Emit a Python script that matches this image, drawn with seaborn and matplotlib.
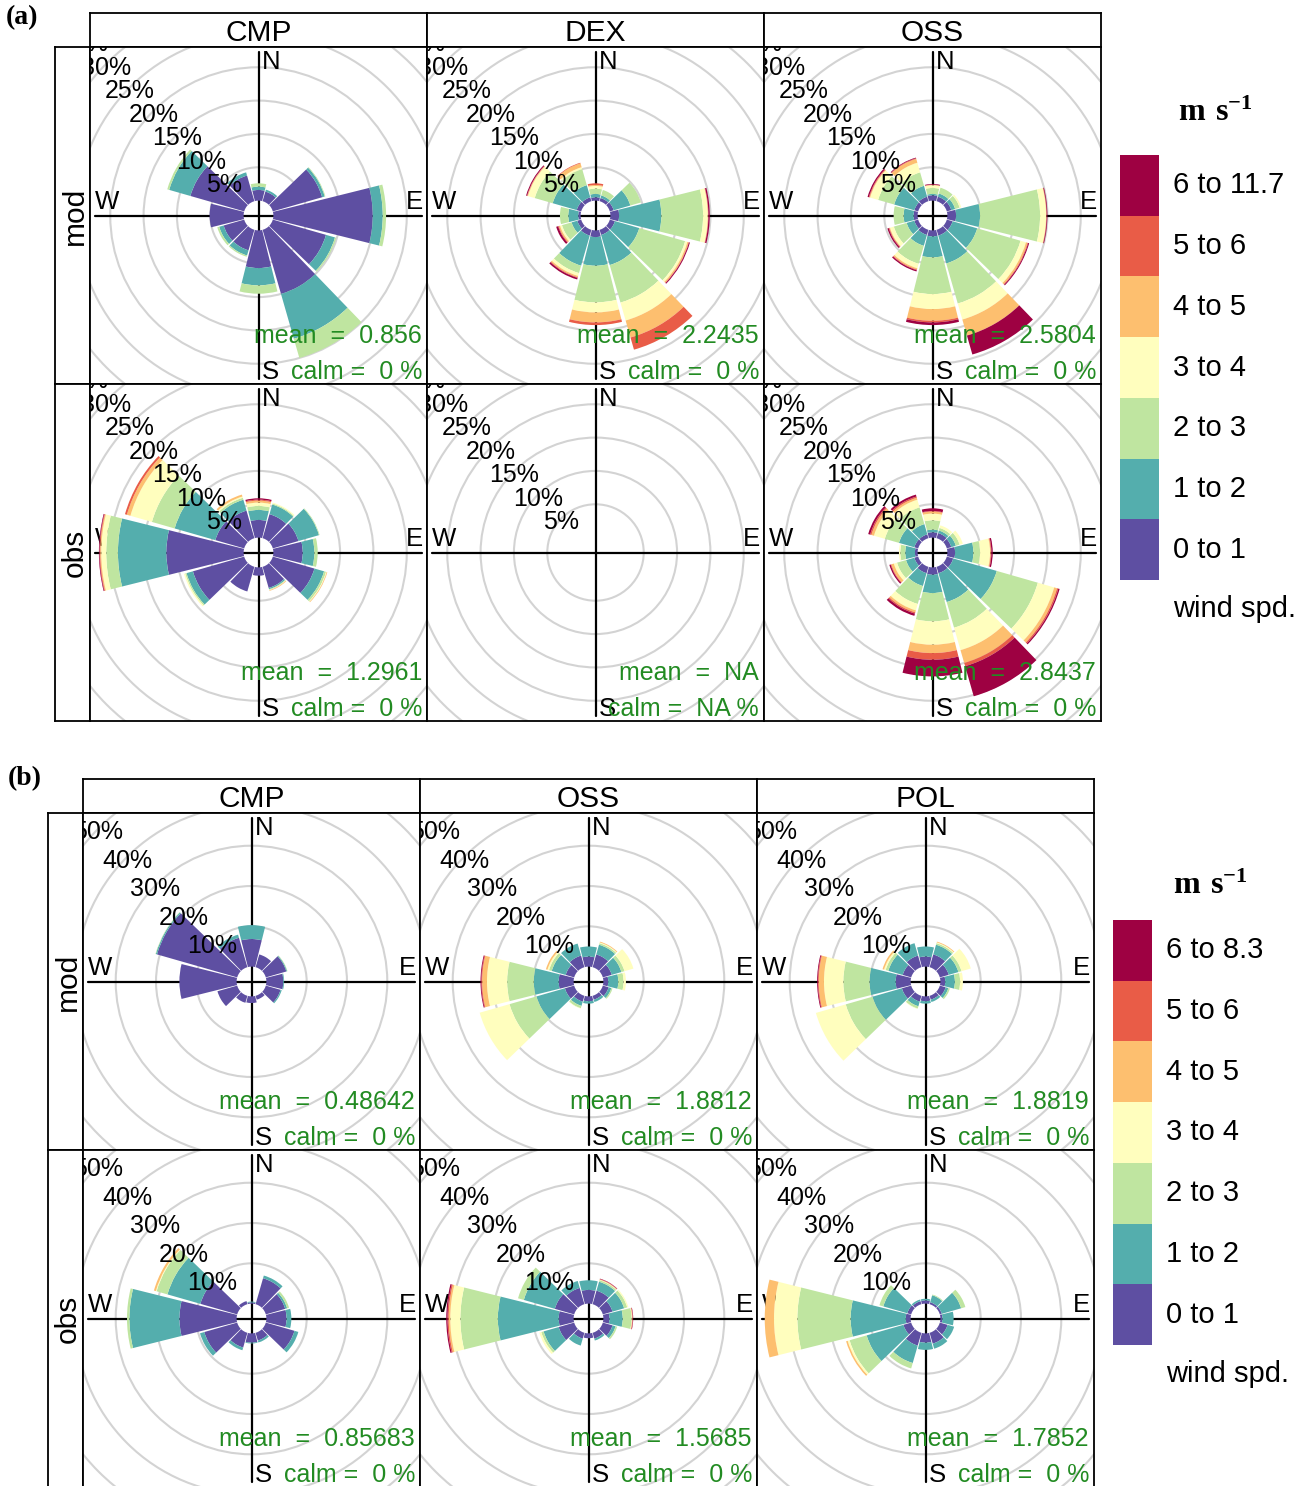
import numpy as np
import matplotlib
matplotlib.use("Agg")
import matplotlib.pyplot as plt
from matplotlib.patches import Wedge, Circle
import matplotlib.transforms as mtransforms
import seaborn as sns

FIG_W, FIG_H = 1306, 1486

# ============ Data ============
# wind direction of each petal (degrees from north, clockwise)
directions = [0, 30, 60, 90, 120, 150, 180, 210, 240, 270, 300, 330]

# brewer Spectral, red -> purple
spectral11 = ["#9E0142", "#D53E4F", "#F46D43", "#FDAE61", "#FEE08B", "#FFFFBF",
              "#E6F598", "#ABDDA4", "#66C2A5", "#3288BD", "#5E4FA2"]

a_speed_labels = ["0 to 1", "1 to 2", "2 to 3", "3 to 4", "4 to 5", "5 to 6", "6 to 11.7"]
b_speed_labels = ["0 to 1", "1 to 2", "2 to 3", "3 to 4", "4 to 5", "5 to 6", "6 to 8.3"]

# cumulative frequency (%) per speed bin, one row per direction N, 30, ..., 330
a_mod_cmp = [[1.6, 2.1, 2.6], [1.5, 1.8], [7.7, 8.1, 8.2], [14.9, 16.4, 16.9],
             [8.3, 9.7, 9.9], [10.0, 17.0, 20.0], [5.65, 8.25, 9.5], [3.2, 4.0, 4.2],
             [3.2, 3.9, 4.2], [5.1], [8.4, 11.7, 12.0], [4.0, 4.5]]
a_mod_dex = [[0.5, 1.0, 1.8, 2.2, 2.35, 2.6], [0.5, 0.9, 1.75], [0.6, 3.2, 4.85],
             [1.3, 7.65, 13.9, 14.6, 14.65, 14.7, 14.9],
             [0.8, 4.6, 11.75, 12.1, 12.3, 12.35, 12.5],
             [0.8, 5.5, 11.35, 14.15, 16.8, 18.7],
             [1.0, 5.3, 10.8, 12.3, 13.8, 14.2],
             [0.9, 5.6, 6.75, 7.2, 7.4, 7.5, 7.75],
             [0.6, 1.5, 3.0, 3.3, 3.5, 3.6, 3.9], [0.35, 1.85, 3.1],
             [0.7, 4.45, 7.25, 8.3, 8.4, 8.45, 8.6],
             [0.6, 2.5, 5.0, 5.3, 5.9, 6.0]]
a_mod_oss = [[0.8, 1.0, 1.9, 2.3, 2.35, 2.4, 2.5], [0.7, 1.2, 2.1], [0.7, 1.3, 2.0, 2.25],
             [1.3, 4.9, 13.9, 14.8, 14.85, 14.9, 15.0],
             [0.9, 4.75, 11.5, 12.35, 12.6, 12.7, 12.85],
             [0.9, 5.25, 11.5, 14.0, 16.5, 16.5, 19.45],
             [0.9, 4.05, 9.55, 11.8, 13.55, 13.8, 14.2],
             [0.8, 2.5, 5.3, 6.0, 6.2, 6.3, 6.5],
             [0.6, 1.8, 3.8, 4.4, 4.5, 4.6, 4.8], [0.6, 2.1, 3.6],
             [0.6, 3.75, 6.25, 7.5, 7.6, 7.7, 7.9],
             [0.7, 2.4, 4.5, 6.0, 6.6, 6.7, 6.8]]
a_obs_cmp = [[2.65, 4.15, 4.75, 5.25, 5.55, 5.7, 5.9], [3.75, 5.25, 5.4, 5.55],
             [4.0, 7.2, 7.3], [4.4, 6.15, 6.65], [6.5, 8.0, 8.3, 8.4, 8.5],
             [3.3, 3.5, 3.6, 3.65, 3.75], [1.25], [3.85], [8.0, 9.0, 9.2, 9.4],
             [11.6, 18.85, 20.6, 21.35, 21.5, 21.6, 21.7],
             [4.5, 10.85, 14.4, 17.75, 18.3, 18.6],
             [4.3, 6.0, 6.3, 6.5, 6.8]]
a_obs_dex = None
a_obs_oss = [[0.8, 1.2, 2.6, 3.6, 3.9, 4.0, 4.4], [0.8, 1.2, 1.6, 2.0], [0.7, 1.4, 2.0, 2.5],
             [1.15, 3.9, 4.9, 6.4, 6.5, 6.6, 6.8],
             [1.0, 7.8, 14.2, 16.75, 17.2, 17.4, 17.6],
             [1.0, 5.5, 9.5, 13.0, 15.0, 15.5, 20.2],
             [1.1, 3.85, 8.1, 11.6, 12.85, 13.85, 16.35],
             [1.0, 3.0, 5.8, 6.8, 7.1, 7.3, 7.65],
             [0.6, 1.9, 3.3, 3.8, 4.2, 4.3, 4.5], [0.4, 1.85, 2.6, 2.8],
             [0.6, 3.0, 5.2, 6.9, 7.3, 7.5, 7.8],
             [0.6, 2.2, 4.8, 6.0, 6.3, 6.5, 6.8]]

b_mod_cmp = [[6.85, 10.3], [3.3], [5.3, 5.5, 5.6], [4.2, 4.4], [3.8, 4.1], [1.0],
             [1.65], [1.8], [5.1], [14.2], [20.7, 21.0, 21.1], [7.6, 8.4]]
b_mod_oss = [[2.5, 5.0], [3.3, 5.8, 6.2, 6.4, 6.6], [2.3, 4.8, 5.6, 7.9],
             [1.2, 3.7, 5.0, 5.6], [1.5, 2.2, 2.5], [1.0, 1.6], [1.2, 1.8],
             [1.5, 2.6, 3.2, 3.3], [2.4, 9.75, 16.7, 24.4],
             [3.7, 9.9, 16.5, 21.5, 22.7, 22.9, 23.1],
             [2.2, 5.8, 6.5, 6.9, 7.3], [3.0, 6.1]]
b_mod_pol = [[2.5, 5.0], [3.3, 5.8, 6.2, 6.4, 6.6], [2.3, 4.8, 5.6, 8.0],
             [1.2, 3.6, 4.9, 5.6], [1.5, 2.2, 2.6], [1.0, 1.6], [1.2, 1.8],
             [1.5, 2.7, 3.3, 3.4], [2.4, 10.0, 16.9, 24.6],
             [3.7, 10.2, 16.7, 21.5, 22.8, 23.0, 23.2],
             [2.2, 5.9, 6.6, 7.0, 7.4], [3.0, 6.2]]
b_obs_cmp = [[0.3, 0.5], [6.7, 7.4], [5.0, 5.5, 6.0], [5.0, 6.2], [7.4, 8.4], [2.0, 2.5],
             [2.3, 2.5], [3.8, 4.5], [8.5, 9.6], [14.2, 26.6, 27.2],
             [9.5, 18.0, 20.8, 21.0, 21.5], [0.8]]
b_obs_oss = [[3.4, 5.8], [3.5, 5.8, 6.2, 6.3, 6.4, 6.5, 6.6], [2.5, 5.5, 6.3, 6.6],
             [1.5, 4.8, 7.0, 7.1, 7.2, 7.3, 7.4], [2.5, 3.3, 3.7], [1.5, 2.0], [1.2],
             [1.5, 3.3], [4.0, 7.9, 8.5, 9.0],
             [3.7, 18.8, 28.1, 30.6, 31.0, 31.3, 31.6],
             [5.0, 13.0, 14.5], [4.2, 6.0]]
b_obs_pol = [[0.8, 1.2], [0.5, 2.3, 2.5], [0.5, 5.5, 6.6], [0.5, 3.3], [2.0, 3.7],
             [2.8, 4.1], [2.3, 4.1], [3.3, 7.8, 9.2], [2.0, 11.5, 15.9, 16.4, 16.8],
             [1.2, 14.9, 28.1, 33.9, 36.2], [1.0, 7.2, 8.2], [0.8, 1.2]]

a_sites = ["CMP", "DEX", "OSS"]
b_sites = ["CMP", "OSS", "POL"]
a_mod_mean = ["0.856", "2.2435", "2.5804"]
a_obs_mean = ["1.2961", "NA", "2.8437"]
a_obs_calm = ["0", "NA", "0"]
b_mod_mean = ["0.48642", "1.8812", "1.8819"]
b_obs_mean = ["0.85683", "1.5685", "1.7852"]

a_max_freq, a_grid = 22.3, 5
b_max_freq, b_grid = 36.9, 10

# ============ Style ============
sns.set_theme(style="white")
plt.rcParams["font.family"] = ["Liberation Sans", "DejaVu Sans"]
plt.rcParams["text.color"] = "black"
plt.rcParams["mathtext.fontset"] = "custom"
plt.rcParams["mathtext.bf"] = "Liberation Serif:bold"
plt.rcParams["mathtext.rm"] = "Liberation Serif"

speed_cols = sns.blend_palette(spectral11[::-1], 7)

fig = plt.figure(figsize=(FIG_W / 100, FIG_H / 100), dpi=100)


def px_axes(x, y, w, h):
    return fig.add_axes([x / FIG_W, 1 - (y + h) / FIG_H, w / FIG_W, h / FIG_H])


def frame(ax):
    ax.set_xticks([])
    ax.set_yticks([])
    ax.set_facecolor("white")
    for s in ax.spines.values():
        s.set_visible(True)
        s.set_color("black")
        s.set_linewidth(1.3)


def strip(x, y, w, h, label, rot=0):
    ax = px_axes(x, y, w, h)
    frame(ax)
    if rot:
        ax.text(0.56, 0.5, label, transform=ax.transAxes, ha="center", va="center",
                fontsize=21.5, rotation=rot)
    else:
        ax.text(0.5, 0.4, label, transform=ax.transAxes, ha="center", va="center",
                fontsize=21.5)


def rose(x, y, size, cum, max_freq, grid, mean_txt, calm_txt):
    ax = px_axes(x, y, size, size)
    frame(ax)
    off = 0.1 * max_freq
    lim = 1.03 * (max_freq + off)
    ax.set_xlim(-lim, lim)
    ax.set_ylim(-lim, lim)

    rings = np.arange(grid, 2 * max_freq + grid, grid)
    for v in rings:
        ax.add_patch(Circle((0, 0), v + off, fill=False, ec="#d3d3d3", lw=1.5, zorder=1))
    ext = max_freq + off
    ax.plot([-ext, ext], [0, 0], color="black", lw=1.6, zorder=2)
    ax.plot([0, 0], [-ext, ext], color="black", lw=1.6, zorder=2)

    kw = dict(transform=ax.transAxes, fontsize=18.5, zorder=2)
    ax.text(0.509, 0.955, "N", ha="left", va="center", **kw)
    ax.text(0.509, 0.037, "S", ha="left", va="center", **kw)
    ax.text(0.988, 0.505, "E", ha="right", va="bottom", **kw)
    ax.text(0.014, 0.505, "W", ha="left", va="bottom", **kw)

    if cum is not None:
        for d, vals in zip(directions, cum):
            prev = 0.0
            for i, v in enumerate(vals):
                if v > prev:
                    ax.add_patch(Wedge((0, 0), off + v, 90 - d - 14, 90 - d + 14,
                                       width=v - prev, fc=speed_cols[i], ec="none",
                                       zorder=3))
                prev = v

    shift = mtransforms.ScaledTranslation(0, -4 / 100, fig.dpi_scale_trans)
    for v in rings:
        r = v + off
        ax.text(-r * np.sin(np.pi / 4), r * np.cos(np.pi / 4), f"{v:g}%",
                transform=ax.transData + shift,
                ha="center", va="center", fontsize=18, zorder=4, clip_on=True)

    ax.text(0.985, 0.142, "mean  =  " + mean_txt, transform=ax.transAxes,
            ha="right", va="center", fontsize=18, color="forestgreen", zorder=5)
    ax.text(0.985, 0.036, "calm =  " + calm_txt + " %", transform=ax.transAxes,
            ha="right", va="center", fontsize=18, color="forestgreen", zorder=5)


def speed_key(x, y, labels, title_xy):
    ax = px_axes(x, y, 39, 425)
    for i, c in enumerate(speed_cols):
        ax.bar(0, 1, bottom=i, width=1, color=c, linewidth=0)
    ax.set_xlim(-0.5, 0.5)
    ax.set_ylim(0, 7)
    ax.axis("off")
    for i, lab in enumerate(labels):
        ax.text(0.85, i + 0.5, lab, ha="left", va="center", fontsize=21, clip_on=False)
    ax.text(0.85, -0.48, "wind spd.", ha="left", va="center", fontsize=21, clip_on=False)
    fig.text(title_xy[0] / FIG_W, 1 - title_xy[1] / FIG_H, r"$\mathbf{m\ s^{-1}}$",
             ha="center", va="center", fontsize=23)


# ============ Panel (a) ============
cell = 337
a_cols = [90, 427, 764]
a_rows = [47, 384]
for j, site in enumerate(a_sites):
    strip(a_cols[j], 13, cell, 34, site)
strip(55, a_rows[0], 35, cell, "mod", rot=90)
strip(55, a_rows[1], 35, cell, "obs", rot=90)
for j, cum in enumerate([a_mod_cmp, a_mod_dex, a_mod_oss]):
    rose(a_cols[j], a_rows[0], cell, cum, a_max_freq, a_grid, a_mod_mean[j], "0")
for j, cum in enumerate([a_obs_cmp, a_obs_dex, a_obs_oss]):
    rose(a_cols[j], a_rows[1], cell, cum, a_max_freq, a_grid, a_obs_mean[j], a_obs_calm[j])
speed_key(1120, 155, a_speed_labels, (1215, 113))
fig.text(6 / FIG_W, 1 - 18 / FIG_H, "(a)", fontsize=20, fontweight="bold",
         family="Liberation Serif", ha="left", va="center")

# ============ Panel (b) ============
b_cols = [83, 420, 757]
b_rows = [813, 1150]
for j, site in enumerate(b_sites):
    strip(b_cols[j], 779, cell, 34, site)
strip(48, b_rows[0], 35, cell, "mod", rot=90)
strip(48, b_rows[1], 35, cell, "obs", rot=90)
for j, cum in enumerate([b_mod_cmp, b_mod_oss, b_mod_pol]):
    rose(b_cols[j], b_rows[0], cell, cum, b_max_freq, b_grid, b_mod_mean[j], "0")
for j, cum in enumerate([b_obs_cmp, b_obs_oss, b_obs_pol]):
    rose(b_cols[j], b_rows[1], cell, cum, b_max_freq, b_grid, b_obs_mean[j], "0")
speed_key(1113, 920, b_speed_labels, (1210, 886))
fig.text(8 / FIG_W, 1 - 779 / FIG_H, "(b)", fontsize=20, fontweight="bold",
         family="Liberation Serif", ha="left", va="center")

fig.savefig("out.png", dpi=100, facecolor="white")
